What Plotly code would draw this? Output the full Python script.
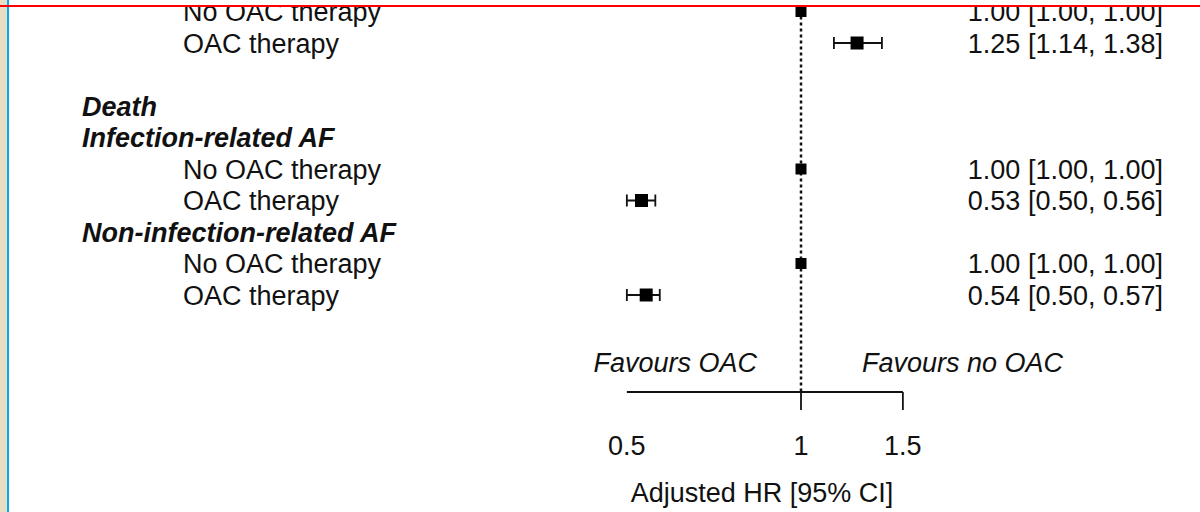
import math
import plotly.graph_objects as go

# ---- data -------------------------------------------------------------
row_labels = [
    "No OAC therapy", "OAC therapy", "",
    "Death", "Infection-related AF", "No OAC therapy", "OAC therapy",
    "Non-infection-related AF", "No OAC therapy", "OAC therapy",
]
row_is_heading = [False, False, False, True, True, False, False, True, False, False]
hr_est = [1.00, 1.25, None, None, None, 1.00, 0.53, None, 1.00, 0.54]
hr_low = [1.00, 1.14, None, None, None, 1.00, 0.50, None, 1.00, 0.50]
hr_high = [1.00, 1.38, None, None, None, 1.00, 0.56, None, 1.00, 0.57]

tick_values = [0.5, 1, 1.5]
tick_labels = ["0.5", "1", "1.5"]
axis_title = "Adjusted HR [95% CI]"
favours_left = "Favours OAC"
favours_right = "Favours no OAC"

# ---- layout helpers -----------------------------------------------------
W, H = 1200, 512
TOP = 6                      # plot area starts just below the frame line
PX_PER_DECADE = 578.5
PX_AT_ONE = 801
ROW0_PX, ROW_PX = 11.5, 31.5
FONT = "Liberation Sans, Arial, sans-serif"
FS = 27
INK = "#111111"
TEXT_DY = 2.9 / ROW_PX       # svg text baseline offset -> centre caps on the row


def px_to_x(px):
    return 10 ** ((px - PX_AT_ONE) / PX_PER_DECADE)


def py_to_row(py):
    return (py - ROW0_PX) / ROW_PX


rows = list(range(len(row_labels)))
axis_row = py_to_row(392)
tick_end_row = py_to_row(410)

fig = go.Figure()

# reference line at HR = 1
fig.add_trace(go.Scatter(
    x=[1, 1], y=[-0.6, axis_row], mode="lines",
    line=dict(color=INK, width=2.5, dash="dot"), hoverinfo="skip"))

# x axis line with ticks (no tick at the left end)
fig.add_trace(go.Scatter(
    x=[min(tick_values), max(tick_values)], y=[axis_row, axis_row], mode="lines",
    line=dict(color=INK, width=1.8), hoverinfo="skip"))
for tv in tick_values[1:]:
    fig.add_trace(go.Scatter(
        x=[tv, tv], y=[axis_row, tick_end_row], mode="lines",
        line=dict(color=INK, width=1.8), hoverinfo="skip"))

# estimates with confidence intervals
ci_x, ci_y, ci_plus, ci_minus = [], [], [], []
ref_x, ref_y = [], []
for r, est, lo, hi in zip(rows, hr_est, hr_low, hr_high):
    if est is None:
        continue
    if lo == hi == est:
        ref_x.append(est)
        ref_y.append(r)
    else:
        ci_x.append(est)
        ci_y.append(r)
        ci_plus.append(hi - est)
        ci_minus.append(est - lo)

fig.add_trace(go.Scatter(
    x=ci_x, y=ci_y, mode="markers",
    marker=dict(symbol="square", size=13, color="black", line=dict(width=0)),
    error_x=dict(type="data", array=ci_plus, arrayminus=ci_minus,
                 color=INK, thickness=1.8, width=6),
    hoverinfo="skip"))
fig.add_trace(go.Scatter(
    x=ref_x, y=ref_y, mode="markers",
    marker=dict(symbol="square", size=11, color="black", line=dict(width=0)),
    hoverinfo="skip"))

# row labels
lab_x, lab_y, lab_t = [], [], []
head_x, head_y, head_t = [], [], []
for r, lab, is_head in zip(rows, row_labels, row_is_heading):
    if not lab:
        continue
    if is_head:
        head_x.append(px_to_x(82))
        head_y.append(r + TEXT_DY)
        head_t.append(f"<b><i>{lab}</i></b>")
    else:
        lab_x.append(px_to_x(183))
        lab_y.append(r + TEXT_DY)
        lab_t.append(lab)

fig.add_trace(go.Scatter(
    x=lab_x, y=lab_y, text=lab_t, mode="text", textposition="middle right",
    textfont=dict(family=FONT, size=FS, color=INK), hoverinfo="skip"))
fig.add_trace(go.Scatter(
    x=head_x, y=head_y, text=head_t, mode="text", textposition="middle right",
    textfont=dict(family=FONT, size=FS, color=INK), hoverinfo="skip"))

# HR [95% CI] column
val_x, val_y, val_t = [], [], []
for r, est, lo, hi in zip(rows, hr_est, hr_low, hr_high):
    if est is None:
        continue
    val_x.append(px_to_x(1163))
    val_y.append(r + TEXT_DY)
    val_t.append(f"{est:.2f} [{lo:.2f}, {hi:.2f}]")
fig.add_trace(go.Scatter(
    x=val_x, y=val_y, text=val_t, mode="text", textposition="middle left",
    textfont=dict(family=FONT, size=FS, color=INK), hoverinfo="skip"))

# favours labels
fav_row = py_to_row(362) + TEXT_DY
fig.add_trace(go.Scatter(
    x=[px_to_x(757)], y=[fav_row], text=[f"<i>{favours_left}</i>"],
    mode="text", textposition="middle left",
    textfont=dict(family=FONT, size=FS, color=INK), hoverinfo="skip"))
fig.add_trace(go.Scatter(
    x=[px_to_x(862)], y=[fav_row], text=[f"<i>{favours_right}</i>"],
    mode="text", textposition="middle right",
    textfont=dict(family=FONT, size=FS, color=INK), hoverinfo="skip"))

# tick labels and axis title
fig.add_trace(go.Scatter(
    x=tick_values, y=[py_to_row(445) + TEXT_DY] * len(tick_values), text=tick_labels,
    mode="text", textposition="middle center",
    textfont=dict(family=FONT, size=FS, color=INK), hoverinfo="skip"))
fig.add_trace(go.Scatter(
    x=[px_to_x(762)], y=[py_to_row(492) + TEXT_DY], text=[axis_title],
    mode="text", textposition="middle center",
    textfont=dict(family=FONT, size=FS, color=INK), hoverinfo="skip"))

# frame decorations: left strip, blue rule, red top rule
plot_h = H - TOP
fig.add_shape(type="rect", xref="paper", yref="paper", x0=0, x1=7 / W,
              y0=0, y1=H / plot_h, fillcolor="#E9DDC2", line_width=0, layer="above")
fig.add_shape(type="rect", xref="paper", yref="paper", x0=7 / W, x1=9 / W,
              y0=0, y1=H / plot_h, fillcolor="#00AEEF", line_width=0, layer="above")
fig.add_shape(type="rect", xref="paper", yref="paper", x0=0, x1=1,
              y0=(H - 7) / plot_h, y1=(H - 5) / plot_h,
              fillcolor="#FF0000", line_width=0, layer="above")

fig.update_layout(
    width=W, height=H,
    margin=dict(l=0, r=0, t=TOP, b=0, pad=0),
    paper_bgcolor="white", plot_bgcolor="white",
    showlegend=False,
    xaxis=dict(type="log", visible=False,
               range=[(0 - PX_AT_ONE) / PX_PER_DECADE, (W - PX_AT_ONE) / PX_PER_DECADE]),
    yaxis=dict(visible=False,
               range=[py_to_row(H), py_to_row(TOP)]),
)

fig.write_html("out.html")
